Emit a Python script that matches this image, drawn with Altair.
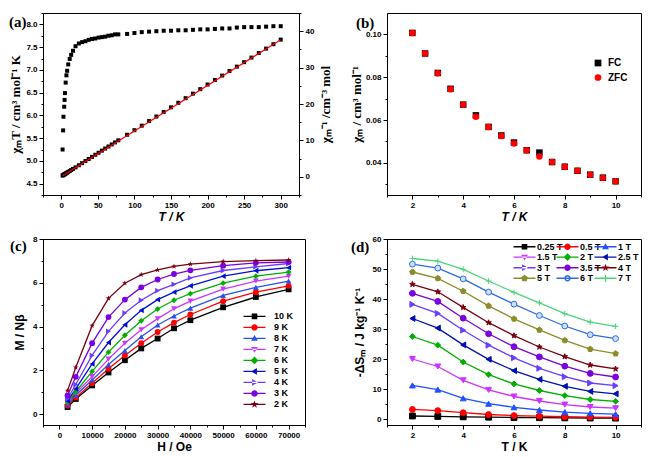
import altair as alt
import pandas as pd

SANS = "Liberation Sans"
SERIF = "Liberation Serif"

# ---------------- (a) chi_M T and chi_M^-1 vs T ----------------
Ta = [1.8, 2.5, 3, 4, 4.5, 5, 6, 7, 8, 9.5, 11.5, 13.5, 16, 19.5, 24, 28.5, 33, 37.5, 42, 46.5,
      51, 55.5, 60, 64.5, 69, 73.5, 78, 90, 100, 110, 120, 130, 140, 150, 160, 170, 180, 190,
      200, 210, 220, 230, 240, 250, 260, 270, 280, 290, 300]
chiT_a = [5.25, 5.67, 5.97, 6.19, 6.34, 6.49, 6.72, 6.88, 6.98, 7.12, 7.24, 7.33, 7.42, 7.52,
          7.58, 7.61, 7.63, 7.66, 7.68, 7.69, 7.71, 7.72, 7.73, 7.75, 7.76, 7.78, 7.78, 7.79,
          7.81, 7.83, 7.84, 7.85, 7.86, 7.86, 7.87, 7.87, 7.88, 7.89, 7.89, 7.90, 7.91, 7.91,
          7.93, 7.94, 7.94, 7.94, 7.95, 7.96, 7.96]
chiInv_a = [0.34, 0.44, 0.50, 0.65, 0.71, 0.77, 0.89, 1.02, 1.15, 1.33, 1.59, 1.84, 2.16, 2.59,
            3.17, 3.75, 4.33, 4.90, 5.47, 6.05, 6.61, 7.19, 7.76, 8.32, 8.89, 9.45, 10.03, 11.55,
            12.80, 14.05, 15.31, 16.56, 17.81, 19.08, 20.33, 21.60, 22.84, 24.08, 25.35, 26.58,
            27.81, 29.08, 30.26, 31.49, 32.75, 34.01, 35.22, 36.43, 37.69]
fitT_a = [1.8, 300]
fitInv_a = [0.3, 37.62]

# ---------------- (b) FC / ZFC ----------------
Tb = [2, 2.5, 3, 3.5, 4, 4.5, 5, 5.5, 6, 6.5, 7, 7.5, 8, 8.5, 9, 9.5, 10]
FC_b = [0.1007, 0.0911, 0.0820, 0.0746, 0.0672, 0.0622, 0.0568, 0.0528, 0.0495, 0.0459, 0.0448,
        0.0404, 0.0382, 0.0363, 0.0345, 0.0331, 0.0314]
ZFC_b = [0.1007, 0.0911, 0.0819, 0.0744, 0.0672, 0.0615, 0.0568, 0.0526, 0.0490, 0.0459, 0.0430,
         0.0404, 0.0382, 0.0363, 0.0344, 0.0330, 0.0314]

# ---------------- (c) M vs H ----------------
Hc = [2500, 5000, 10000, 15000, 20000, 25000, 30000, 35000, 40000, 50000, 60000, 70000]
series_c = ["10 K", "9 K", "8 K", "7 K", "6 K", "5 K", "4 K", "3 K", "2 K"]
M_c = {
    "10 K": [0.32, 0.69, 1.31, 1.90, 2.46, 3.00, 3.45, 3.92, 4.29, 4.88, 5.35, 5.70],
    "9 K": [0.39, 0.76, 1.41, 2.07, 2.68, 3.24, 3.75, 4.18, 4.55, 5.16, 5.57, 5.86],
    "8 K": [0.45, 0.86, 1.56, 2.26, 2.90, 3.53, 4.07, 4.48, 4.84, 5.42, 5.79, 6.08],
    "7 K": [0.50, 0.95, 1.71, 2.51, 3.24, 3.85, 4.36, 4.81, 5.16, 5.71, 6.08, 6.30],
    "6 K": [0.55, 1.02, 1.95, 2.83, 3.60, 4.26, 4.80, 5.20, 5.50, 5.98, 6.30, 6.49],
    "5 K": [0.60, 1.15, 2.29, 3.27, 4.08, 4.74, 5.23, 5.57, 5.86, 6.30, 6.55, 6.69],
    "4 K": [0.70, 1.35, 2.68, 3.78, 4.62, 5.20, 5.64, 5.93, 6.22, 6.56, 6.73, 6.88],
    "3 K": [0.85, 1.70, 3.24, 4.43, 5.23, 5.79, 6.15, 6.40, 6.57, 6.78, 6.91, 6.95],
    "2 K": [1.07, 2.13, 4.04, 5.29, 5.98, 6.37, 6.59, 6.75, 6.85, 6.97, 7.01, 7.04],
}
colors_c = ["#000000", "#FF0000", "#2B50E8", "#CC33FF", "#00B000", "#0010D0", "#6A3DFF",
            "#7A00E0", "#7A0010"]

# ---------------- (d) -dS_m vs T ----------------
Td = [2, 3, 4, 5, 6, 7, 8, 9, 10]
series_d = ["0.25 T", "0.5 T", "1 T", "1.5 T", "2 T", "2.5 T", "3 T", "3.5 T", "4 T", "5 T",
            "6 T", "7 T"]
S_d = {
    "0.25 T": [1.0, 0.85, 0.72, 0.60, 0.50, 0.44, 0.38, 0.33, 0.30],
    "0.5 T": [3.2, 2.8, 2.1, 1.5, 1.15, 0.95, 0.75, 0.62, 0.52],
    "1 T": [11.2, 9.8, 6.9, 5.1, 3.9, 3.0, 2.3, 1.9, 1.6],
    "1.5 T": [20.0, 17.5, 12.9, 9.7, 7.5, 6.0, 4.8, 4.0, 3.6],
    "2 T": [27.5, 24.6, 19.0, 14.8, 11.7, 9.5, 7.8, 6.5, 5.9],
    "2.5 T": [33.5, 30.3, 24.7, 19.9, 16.1, 13.2, 10.9, 9.2, 8.4],
    "3 T": [38.2, 35.2, 29.6, 24.6, 20.4, 16.9, 14.1, 12.0, 11.1],
    "3.5 T": [41.9, 39.2, 33.6, 28.4, 24.1, 20.7, 17.6, 15.2, 14.0],
    "4 T": [44.9, 42.4, 37.2, 32.1, 27.8, 24.0, 20.8, 18.0, 16.7],
    "5 T": [49.0, 46.9, 42.6, 37.7, 33.4, 29.7, 26.2, 23.3, 21.8],
    "6 T": [51.6, 50.3, 46.7, 42.3, 38.3, 34.5, 31.0, 28.1, 26.8],
    "7 T": [53.5, 52.6, 49.9, 46.0, 42.2, 38.7, 35.1, 32.3, 30.9],
}
colors_d = ["#000000", "#FF0000", "#2050FF", "#CC33FF", "#00B000", "#0010B0", "#6A3DFF",
            "#7A00E0", "#7A0010", "#8C8C2A", "#2B6BE8", "#4CD37A"]
fills_d = ["#000000", "#FF0000", "#2050FF", "#CC33FF", "#00B000", "#0010B0", "#6A3DFF",
           "#7A00E0", "#7A0010", "#8C8C2A", "#CFE0FF", "#4CD37A"]
# legend reading order (row by row, 3 per row) mapped to the column-first legend layout
legend_order_d = [0, 3, 6, 9, 1, 4, 7, 10, 2, 5, 8, 11]

# ---------------- marker shapes (plot) ----------------
STAR = ("M0,-1L0.235,-0.324L0.951,-0.309L0.38,0.124L0.588,0.809L0,0.4L-0.588,0.809"
        "L-0.38,0.124L-0.951,-0.309L-0.235,-0.324Z")
PENT = "M0,-1L0.951,-0.309L0.588,0.809L-0.588,0.809L-0.951,-0.309Z"
PLUS = "M-1,0H1M0,-1V1"


def legend_paths(u):
    """Legend symbols (line sample + marker); u = path units per 4 px."""
    def s(v):
        return "%.3f" % (v * u)
    ln = "M-%s,-%sH%sV%sH-%sZ" % (s(2.75), s(0.17), s(2.75), s(0.17), s(2.75))
    circ = lambda r, sw: "M%s,0A%s,%s,0,1,%d,-%s,0A%s,%s,0,1,%d,%s,0Z" % (
        s(r), s(r), s(r), sw, s(r), s(r), s(r), sw, s(r))
    poly = lambda pts: "".join(("M" if i == 0 else "L") + "%s,%s" % (s(x), s(y))
                               for i, (x, y) in enumerate(pts)) + "Z"
    star = poly([(0, -1), (0.235, -0.324), (0.951, -0.309), (0.38, 0.124), (0.588, 0.809),
                 (0, 0.4), (-0.588, 0.809), (-0.38, 0.124), (-0.951, -0.309),
                 (-0.235, -0.324)])
    return {
        "sq": ln + poly([(-0.7, -0.7), (0.7, -0.7), (0.7, 0.7), (-0.7, 0.7)]),
        "ci": ln + circ(0.8, 1),
        "tu": ln + poly([(0, -0.85), (0.85, 0.6), (-0.85, 0.6)]),
        "td": ln + poly([(0, 0.85), (0.85, -0.6), (-0.85, -0.6)]),
        "di": ln + poly([(0, -0.95), (0.95, 0), (0, 0.95), (-0.95, 0)]),
        "tl": ln + poly([(-0.85, 0), (0.6, -0.85), (0.6, 0.85)]),
        "tr": ln + poly([(0.85, 0), (-0.6, -0.85), (-0.6, 0.85)]),
        "st": ln + star,
        "pe": ln + poly([(0, -0.9), (0.856, -0.278), (0.529, 0.728), (-0.529, 0.728),
                         (-0.856, -0.278)]),
        "ri": ln + circ(0.8, 1) + circ(0.42, 0),
        "pl": ln + poly([(-0.9, -0.17), (0.9, -0.17), (0.9, 0.17), (-0.9, 0.17)])
        + poly([(-0.17, -0.9), (0.17, -0.9), (0.17, 0.9), (-0.17, 0.9)]),
    }


LP4 = legend_paths(1.0)        # for symbolSize 64 (4 px per unit)

shapes_c = ["square", "circle", "triangle-up", "triangle-down", "diamond", "triangle-left",
            "triangle-right", "circle", STAR]
lshapes_c = [LP4[k] for k in ["sq", "ci", "tu", "td", "di", "tl", "tr", "ci", "st"]]
shapes_d = ["square", "circle", "triangle-up", "triangle-down", "diamond", "triangle-left",
            "triangle-right", "circle", STAR, PENT, "circle", PLUS]
lshapes_d = [LP4[k] for k in ["sq", "ci", "tu", "td", "di", "tl", "tr", "ci", "st", "pe", "ri",
                              "pl"]]


def qaxis(majors, minors, title, fmt, orient, title_font=SANS, title_size=12,
          title_style="normal", title_angle=None, title_baseline=None, title_pad=3,
          label_size=8):
    mj = "[" + ",".join(str(v) for v in majors) + "]"
    props = dict(
        orient=orient, values=sorted(majors + minors), title=title, format=fmt,
        labelExpr="indexof(%s, datum.value) >= 0 ? datum.label : ''" % mj,
        tickSize={"condition": {"test": "indexof(%s, datum.value) < 0" % mj, "value": 2},
                  "value": 4},
        grid=False, labelOverlap=False, labelFlush=False,
        domainColor="black", tickColor="black", labelColor="black", titleColor="black",
        labelFont=SANS, labelFontWeight="bold", labelFontSize=label_size, labelPadding=2,
        titleFont=title_font, titleFontWeight="bold", titleFontSize=title_size,
        titleFontStyle=title_style, titlePadding=title_pad, tickWidth=1, domainWidth=1)
    if title_angle is not None:
        props["titleAngle"] = title_angle
    if title_baseline is not None:
        props["titleBaseline"] = title_baseline
    return alt.Axis(**props)


def panel_label(txt, x, y):
    return alt.Chart(pd.DataFrame({"lab": [txt]})).mark_text(
        font=SERIF, fontWeight="bold", fontSize=15, align="left", baseline="middle",
        color="black").encode(x=alt.value(x), y=alt.value(y), text="lab:N")


def lin(domain):
    return alt.Scale(domain=domain, nice=False, zero=False)


def line_legend(x, y, cols, row_pad, col_pad=0, clip=None, sym_offset=None, lab_offset=8):
    props = dict(title=None, orient="none", legendX=x, legendY=y, labelFont=SANS,
                 labelFontWeight="bold", labelFontSize=9, symbolSize=64,
                 rowPadding=row_pad, columnPadding=col_pad, columns=cols,
                 gridAlign="each", labelOffset=lab_offset, symbolStrokeWidth=0, padding=0)
    if clip is not None:
        props["clipHeight"] = clip
    if sym_offset is not None:
        props["symbolOffset"] = sym_offset
    return alt.Legend(**props)


W_A, W_B, W_C, W_D = 256, 254, 262, 254
H_TOP, H_BOT = 182, 186

# ---------------- panel (a) ----------------
dfa = pd.DataFrame({"T": Ta, "chiT": chiT_a, "inv": chiInv_a})
dffit = pd.DataFrame({"T": fitT_a, "inv": fitInv_a})
ax_ax = qaxis([0, 50, 100, 150, 200, 250, 300], [-25, 25, 75, 125, 175, 225, 275, 325],
              "T / K", "d", "bottom", title_style="italic", title_pad=2)
ax_ay = qaxis([4.5, 5.0, 5.5, 6.0, 6.5, 7.0, 7.5, 8.0],
              [4.25, 4.75, 5.25, 5.75, 6.25, 6.75, 7.25, 7.75, 8.25],
              "χₘT / cm³ mol⁻¹ K", ".1f", "left", title_font=SERIF, title_size=13, title_pad=3)
ax_ay2 = qaxis([0, 10, 20, 30, 40], [-5, 5, 15, 25, 35, 45], "χₘ⁻¹ /cm⁻³ mol", "d", "right",
               title_font=SERIF, title_size=13, title_angle=270, title_baseline="top",
               title_pad=6)
xa = alt.X("T:Q", scale=lin([-25, 325]), axis=ax_ax)
sc_inv = lin([-5, 45])
a_left = alt.Chart(dfa).mark_square(size=16, color="black", opacity=1).encode(
    x=xa, y=alt.Y("chiT:Q", scale=lin([4.25, 8.25]), axis=ax_ay))
a_inv = alt.Chart(dfa).mark_square(size=16, color="black", opacity=1).encode(
    x=xa, y=alt.Y("inv:Q", scale=sc_inv, axis=ax_ay2))
a_fit = alt.Chart(dffit).mark_line(color="#FF0000", strokeWidth=1.2).encode(
    x=xa, y=alt.Y("inv:Q", scale=sc_inv, axis=ax_ay2))
pa = alt.layer(alt.layer(a_left, panel_label("(a)", -34, 9)),
               alt.layer(a_inv, a_fit)).resolve_scale(y="independent").properties(
    width=W_A, height=H_TOP)

# ---------------- panel (b) ----------------
dfb = pd.DataFrame({"T": Tb + Tb, "chi": FC_b + ZFC_b,
                    "type": ["FC"] * len(Tb) + ["ZFC"] * len(Tb)})
leg_b = alt.Legend(title=None, orient="none", legendX=206, legendY=45, labelFont=SANS,
                   labelFontWeight="bold", labelFontSize=10, symbolSize=45, rowPadding=4.5,
                   labelOffset=5, symbolStrokeWidth=0, padding=0)
b_pts = alt.Chart(dfb).mark_point(filled=True, size=42, opacity=1).encode(
    x=alt.X("T:Q", scale=lin([1, 11]),
            axis=qaxis([2, 4, 6, 8, 10], [1, 3, 5, 7, 9, 11], "T / K", "d", "bottom",
                       title_style="italic", title_pad=2)),
    y=alt.Y("chi:Q", scale=lin([0.025, 0.11]),
            axis=qaxis([0.04, 0.06, 0.08, 0.1], [0.03, 0.05, 0.07, 0.09], "χₘ / cm³ mol⁻¹",
                       ".2f", "left", title_font=SERIF, title_size=13, title_pad=2)),
    color=alt.Color("type:N", scale=alt.Scale(domain=["FC", "ZFC"], range=["#000000", "#FF0000"]),
                    legend=leg_b),
    shape=alt.Shape("type:N", scale=alt.Scale(domain=["FC", "ZFC"], range=["square", "circle"]),
                    legend=leg_b))
pb = alt.layer(b_pts, panel_label("(b)", -31, 10)).properties(width=W_B, height=H_TOP)

# ---------------- panel (c) ----------------
rows_c = []
for k in series_c:
    for h, m in zip(Hc, M_c[k]):
        rows_c.append({"H": h, "M": m, "K": k})
dfc = pd.DataFrame(rows_c)
xc = alt.X("H:Q", scale=lin([-5000, 75000]),
           axis=qaxis([0, 10000, 20000, 30000, 40000, 50000, 60000, 70000],
                      [-5000, 5000, 15000, 25000, 35000, 45000, 55000, 65000, 75000],
                      "H / Oe", "d", "bottom", title_pad=2))
yc = alt.Y("M:Q", scale=lin([-0.5, 8]),
           axis=qaxis([0, 2, 4, 6, 8], [1, 3, 5, 7], "M / Nβ", "d", "left", title_pad=6))
col_c = alt.Scale(domain=series_c, range=colors_c)
leg_c = line_legend(200, 72, 1, 0, clip=10.8, sym_offset=7, lab_offset=15)
c_line = alt.Chart(dfc).mark_line(strokeWidth=1.3, opacity=1).encode(
    x=xc, y=yc, color=alt.Color("K:N", scale=col_c, legend=None))
c_pts = alt.Chart(dfc).mark_point(filled=True, size=34, opacity=1).encode(
    x=xc, y=yc, color=alt.Color("K:N", scale=col_c, legend=None),
    shape=alt.Shape("K:N", scale=alt.Scale(domain=series_c, range=shapes_c), legend=None))
c_leg = alt.Chart(dfc).transform_filter("false").mark_point(filled=True, opacity=1).encode(
    x=xc, y=yc,
    fill=alt.Fill("K:N", scale=alt.Scale(domain=series_c, range=colors_c), legend=leg_c),
    shape=alt.Shape("K:N", scale=alt.Scale(domain=series_c, range=lshapes_c), legend=leg_c))
pc = alt.layer(c_line, c_pts, c_leg, panel_label("(c)", -33, 7)).resolve_scale(
    shape="independent", fill="independent").properties(width=W_C, height=H_BOT)

# ---------------- panel (d) ----------------
rows_d = []
for k in series_d:
    for t, s in zip(Td, S_d[k]):
        rows_d.append({"T": t, "S": s, "F": k})
dfd = pd.DataFrame(rows_d)
xd = alt.X("T:Q", scale=lin([1, 11]),
           axis=qaxis([2, 4, 6, 8, 10], [1, 3, 5, 7, 9, 11], "T / K", "d", "bottom",
                      title_pad=2))
yd = alt.Y("S:Q", scale=lin([-2, 60]),
           axis=qaxis([0, 10, 20, 30, 40, 50, 60], [5, 15, 25, 35, 45, 55],
                      "-ΔSₘ / J kg⁻¹ K⁻¹", "d", "left", title_pad=6))
leg_dom = [series_d[i] for i in legend_order_d]
leg_fill = [colors_d[i] for i in legend_order_d]
leg_shape = [lshapes_d[i] for i in legend_order_d]
leg_d = line_legend(133, 3, 3, 0.6, -8)
d_line = alt.Chart(dfd).mark_line(strokeWidth=1.3, opacity=1).encode(
    x=xd, y=yd, color=alt.Color("F:N", scale=alt.Scale(domain=series_d, range=colors_d),
                                legend=None))
d_pts = alt.Chart(dfd).mark_point(filled=True, size=34, opacity=1, strokeWidth=1).encode(
    x=xd, y=yd,
    fill=alt.Fill("F:N", scale=alt.Scale(domain=series_d, range=fills_d), legend=None),
    stroke=alt.Stroke("F:N", scale=alt.Scale(domain=series_d, range=colors_d), legend=None),
    shape=alt.Shape("F:N", scale=alt.Scale(domain=series_d, range=shapes_d), legend=None))
d_leg = alt.Chart(dfd).transform_filter("false").mark_point(filled=True, opacity=1).encode(
    x=xd, y=yd,
    fill=alt.Fill("F:N", scale=alt.Scale(domain=leg_dom, range=leg_fill), legend=leg_d),
    shape=alt.Shape("F:N", scale=alt.Scale(domain=leg_dom, range=leg_shape), legend=leg_d))
pd_ = alt.layer(d_line, d_pts, d_leg, panel_label("(d)", -36, 8)).resolve_scale(
    shape="independent", fill="independent").properties(width=W_D, height=H_BOT)

chart = alt.concat(pa, pb, pc, pd_, columns=2, spacing={"row": 44, "column": 82},
                   bounds="flush").resolve_scale(
    color="independent", shape="independent", fill="independent", stroke="independent"
).properties(padding=0, background="white").configure_view(stroke="black", strokeWidth=1)

chart.save("out.html", embed_options={"renderer": "svg", "actions": False})
